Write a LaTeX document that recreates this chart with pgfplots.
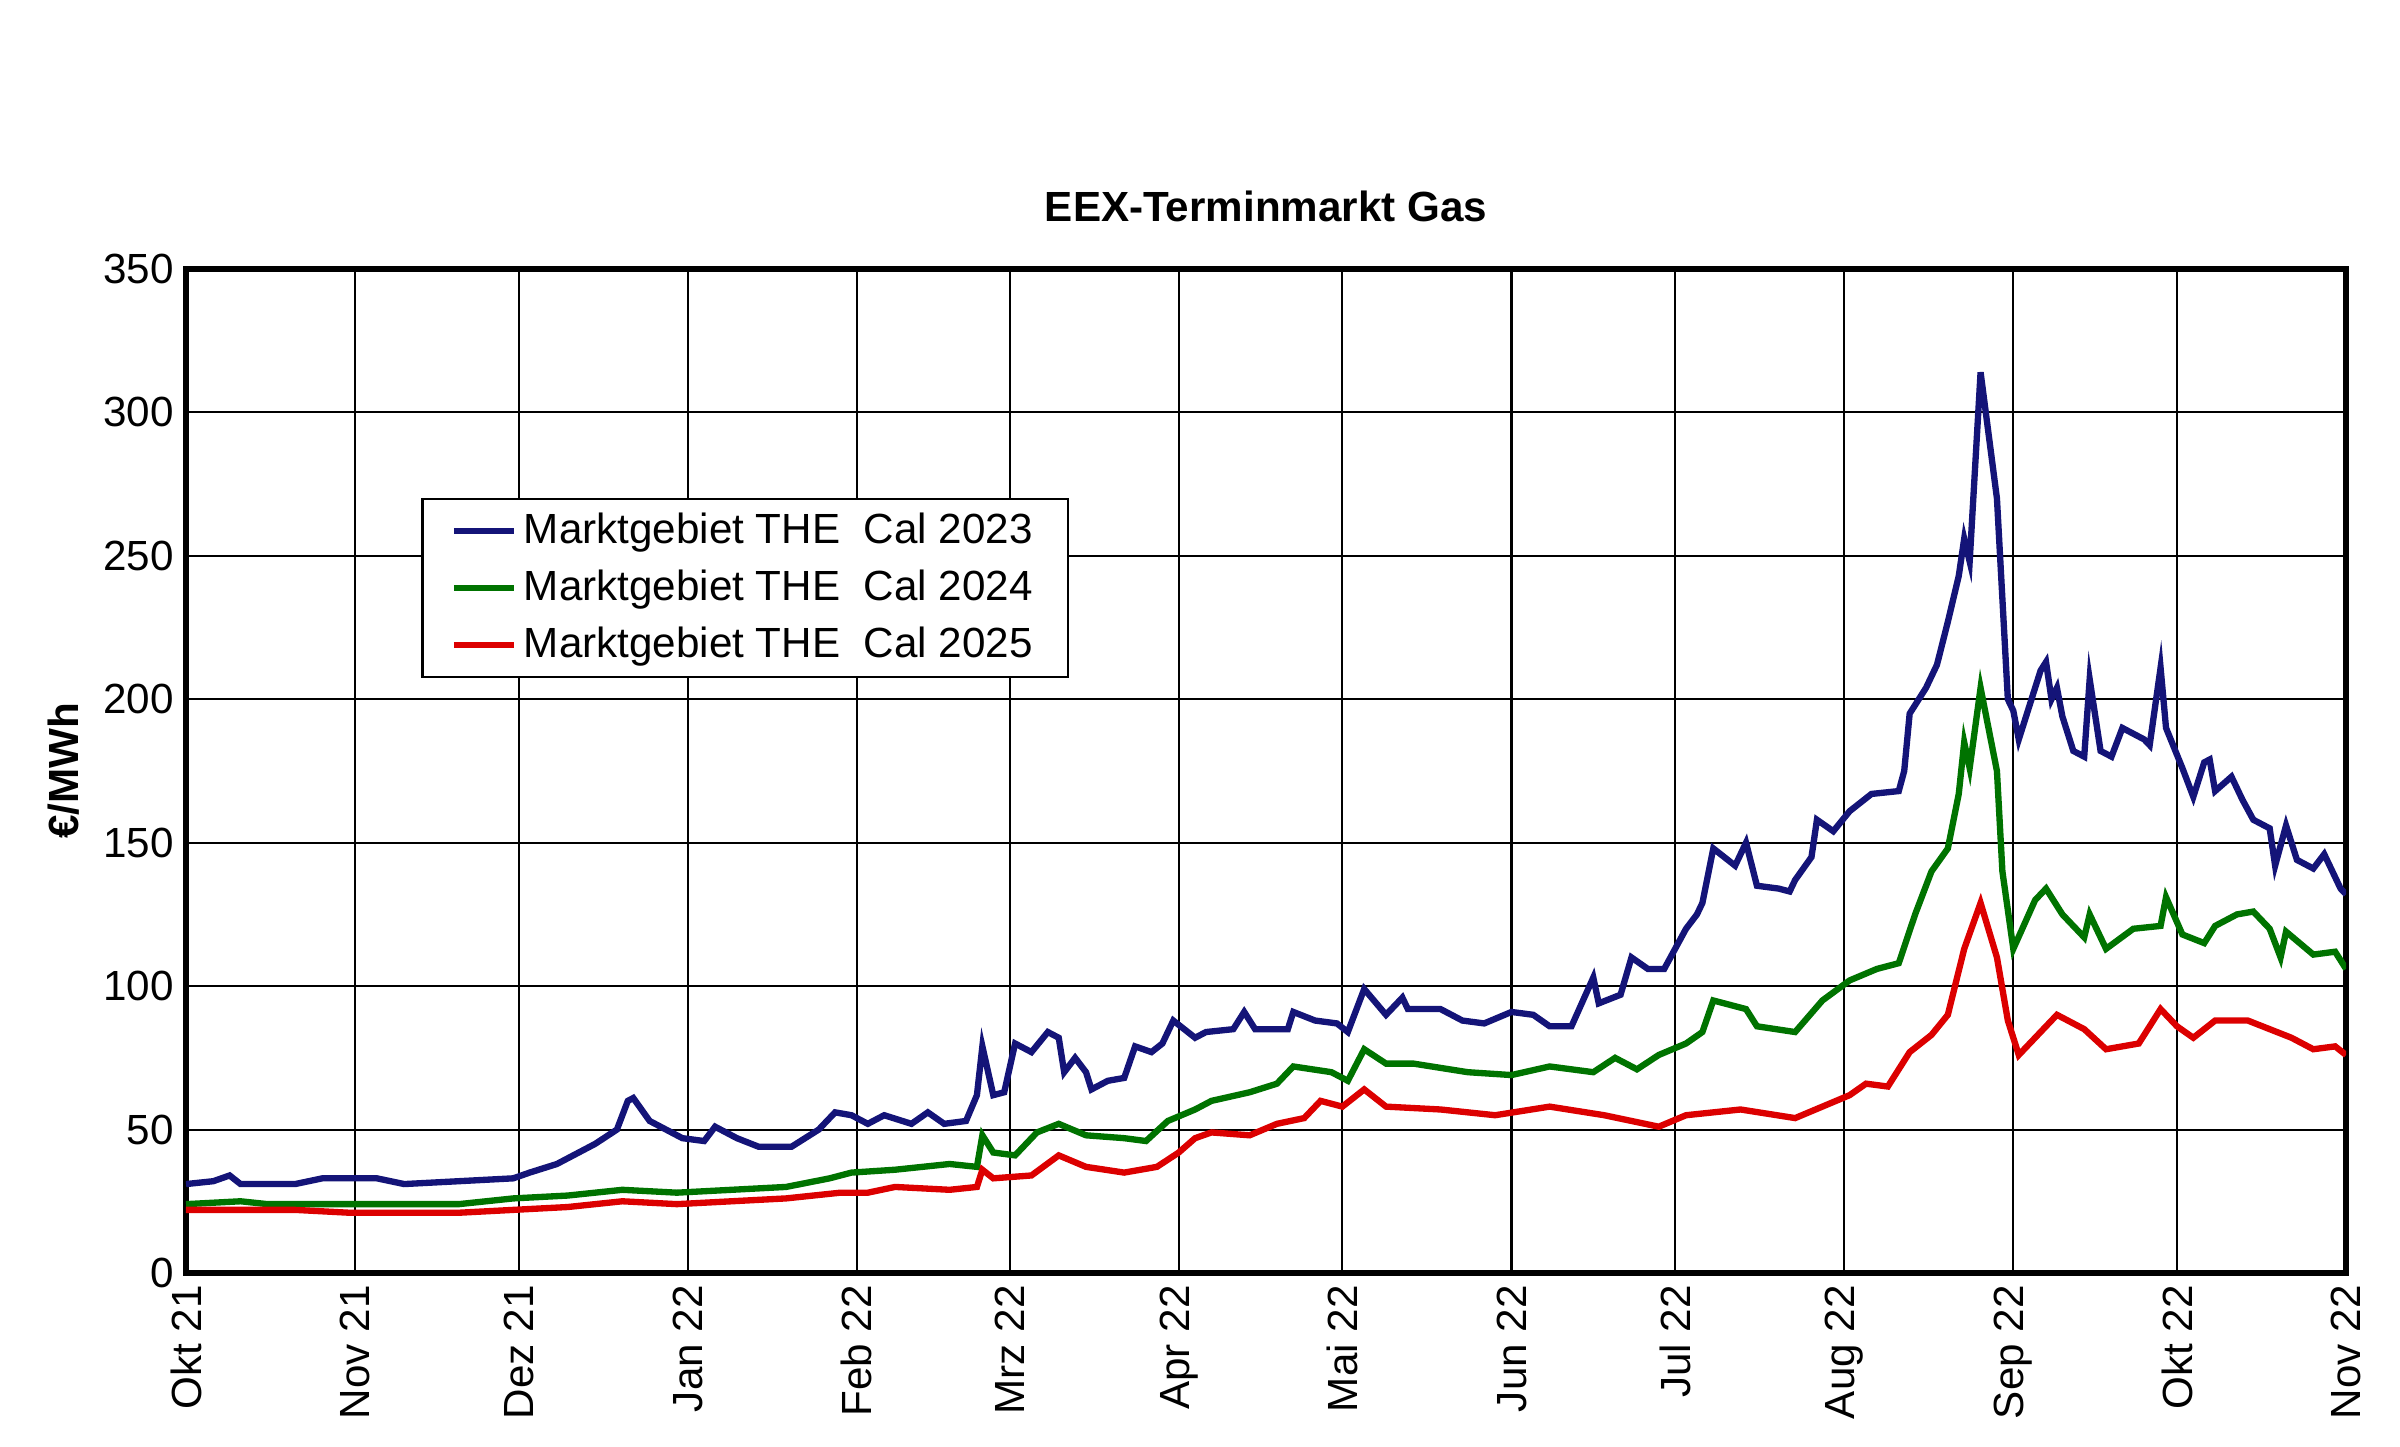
\documentclass[border=0pt]{standalone}
\usepackage{pgfplots}
\pgfplotsset{compat=1.18}
\usepackage{fontspec}
\setmainfont{Liberation Sans}
\definecolor{cblue}{RGB}{20,20,120}
\definecolor{cgreen}{RGB}{0,115,0}
\definecolor{cred}{RGB}{220,0,0}
\begin{document}
\begin{tikzpicture}
\path (0,0) rectangle (24cm,14.47cm);
\begin{axis}[
  at={(1.86cm,1.74cm)}, anchor=south west,
  scale only axis, width=21.6cm, height=10.04cm,
  xmin=0, xmax=396, ymin=0, ymax=350,
  xtick={0,31,61,92,123,151,182,212,243,273,304,335,365,396},
  xticklabels={Okt 21,Nov 21,Dez 21,Jan 22,Feb 22,Mrz 22,Apr 22,Mai 22,Jun 22,Jul 22,Aug 22,Sep 22,Okt 22,Nov 22},
  xticklabel style={rotate=90,anchor=east,font=\fontsize{12}{14}\selectfont},
  ytick={0,50,...,350},
  yticklabel style={font=\fontsize{12}{14}\selectfont},
  /pgf/number format/assume math mode=true,
  grid=major, grid style={black,line width=0.6pt},
  axis line style={black,line width=1.6pt},
  tick style={black},
  title={\textbf{EEX-Terminmarkt Gas}},
  title style={font=\fontsize{12}{14}\selectfont, yshift=4pt},
  ylabel={\textbf{€/MWh}},
  ylabel style={font=\fontsize{12}{14}\selectfont},
  legend style={at={(0.109,0.772)},anchor=north west,draw=black,line width=0.6pt,
    font=\fontsize{12}{15}\selectfont, inner xsep=8pt, row sep=2pt, cells={anchor=west}},
  legend cell align=left,
  every axis plot/.append style={line width=1.8pt},
]
\addplot[cblue] coordinates {(0,31)(5,32)(8,34)(10,31)(20,31)(25,33)(35,33)(40,31)(50,32)(60,33)(63,35)(68,38)(72,42)(75,45)(79,50)(81,60)(82,61)(85,53)(88,50)(91,47)(95,46)(97,51)(101,47)(105,44)(111,44)(116,50)(119,56)(122,55)(125,52)(128,55)(133,52)(136,56)(139,52)(143,53)(145,62)(146,79)(148,62)(150,63)(152,80)(155,77)(158,84)(160,82)(161,70)(163,75)(165,70)(166,64)(169,67)(172,68)(174,79)(177,77)(179,80)(181,88)(185,82)(187,84)(192,85)(194,91)(196,85)(202,85)(203,91)(207,88)(211,87)(213,84)(216,99)(220,90)(223,96)(224,92)(230,92)(234,88)(238,87)(243,91)(247,90)(250,86)(254,86)(258,103)(259,94)(263,97)(265,110)(268,106)(271,106)(275,120)(277,125)(278,129)(280,148)(282,145)(284,142)(286,150)(288,135)(292,134)(294,133)(295,137)(298,145)(299,158)(302,154)(305,161)(309,167)(314,168)(315,175)(316,195)(319,204)(321,212)(323,227)(325,243)(326,256)(327,248)(329,314)(332,270)(334,200)(335,196)(336,186)(340,210)(341,213)(342,200)(343,204)(344,194)(346,182)(348,180)(349,207)(351,182)(353,180)(355,190)(359,186)(360,184)(362,211)(363,190)(366,176)(368,166)(370,178)(371,179)(372,168)(375,173)(377,165)(379,158)(382,155)(383,142)(385,156)(387,144)(390,141)(392,146)(395,134)(396,132)};
\addlegendentry{Marktgebiet THE\ \ Cal 2023}
\addplot[cgreen] coordinates {(0,24)(10,25)(15,24)(30,24)(40,24)(50,24)(55,25)(60,26)(70,27)(80,29)(90,28)(100,29)(110,30)(118,33)(122,35)(130,36)(140,38)(145,37)(146,48)(148,42)(152,41)(156,49)(160,52)(165,48)(172,47)(176,46)(180,53)(185,57)(188,60)(195,63)(200,66)(203,72)(210,70)(213,67)(216,78)(220,73)(225,73)(235,70)(243,69)(250,72)(258,70)(262,75)(266,71)(270,76)(275,80)(278,84)(280,95)(286,92)(288,86)(295,84)(300,95)(305,102)(310,106)(314,108)(317,125)(320,140)(323,148)(325,167)(326,185)(327,176)(329,204)(332,175)(333,140)(335,113)(339,130)(341,134)(344,125)(348,117)(349,125)(352,113)(357,120)(362,121)(363,131)(366,118)(370,115)(372,121)(376,125)(379,126)(382,120)(384,110)(385,119)(390,111)(394,112)(396,106)};
\addlegendentry{Marktgebiet THE\ \ Cal 2024}
\addplot[cred] coordinates {(0,22)(20,22)(30,21)(50,21)(60,22)(70,23)(80,25)(90,24)(100,25)(110,26)(120,28)(125,28)(130,30)(140,29)(145,30)(146,36)(148,33)(155,34)(160,41)(165,37)(172,35)(178,37)(182,42)(185,47)(188,49)(195,48)(200,52)(205,54)(208,60)(212,58)(216,64)(220,58)(230,57)(240,55)(250,58)(260,55)(270,51)(275,55)(285,57)(295,54)(305,62)(308,66)(312,65)(316,77)(320,83)(323,90)(326,113)(329,129)(332,110)(334,88)(336,76)(341,86)(343,90)(348,85)(352,78)(358,80)(362,92)(365,86)(368,82)(372,88)(378,88)(382,85)(386,82)(390,78)(394,79)(396,76)};
\addlegendentry{Marktgebiet THE\ \ Cal 2025}
\end{axis}
\end{tikzpicture}
\end{document}
